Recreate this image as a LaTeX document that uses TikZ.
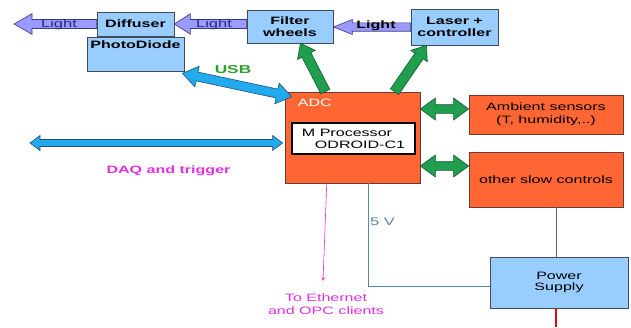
\documentclass[tikz,border=0pt]{standalone}
\usepackage{fontspec}
\setmainfont{Liberation Sans}[FakeStretch=1.5]
\usetikzlibrary{calc,arrows.meta}
\definecolor{boxblue}{HTML}{99CCFF}
\definecolor{boxedge}{HTML}{3E4B5B}
\definecolor{boxorange}{HTML}{FF6633}
\definecolor{orangeedge}{HTML}{6E3A2C}
\definecolor{lightfill}{HTML}{9999FF}
\definecolor{lightedge}{HTML}{3A3A7E}
\definecolor{lighttext}{HTML}{2C2C6E}
\definecolor{usbfill}{HTML}{22AAEE}
\definecolor{usbedge}{HTML}{1E4F7A}
\definecolor{ctrlfill}{HTML}{1F9E4E}
\definecolor{ctrledge}{HTML}{145A30}
\definecolor{usbgreen}{HTML}{2EA02E}
\definecolor{daqpink}{HTML}{E030E0}
\definecolor{voltblue}{HTML}{5A84A8}
\definecolor{psgray}{HTML}{56667C}
\definecolor{mainsred}{HTML}{D01010}
% fat arrow: style, from, to, half shaft, half head, head length
\newcommand{\fatarrow}[6]{%
  \coordinate (fa-h) at ($(#3)!#6!(#2)$);
  \draw[#1] ($(#2)!#4!90:(#3)$) -- ($(fa-h)!#4!90:(#3)$) -- ($(fa-h)!#5!90:(#3)$) -- (#3)
    -- ($(fa-h)!#5!-90:(#3)$) -- ($(fa-h)!#4!-90:(#3)$) -- ($(#2)!#4!-90:(#3)$) -- cycle;}
% fat arrow with two heads
\newcommand{\fatdarrow}[6]{%
  \coordinate (fd-a) at ($(#2)!#6!(#3)$);
  \coordinate (fd-b) at ($(#3)!#6!(#2)$);
  \draw[#1] (#2) -- ($(fd-a)!#5!90:(#3)$) -- ($(fd-a)!#4!90:(#3)$) -- ($(fd-b)!#4!90:(#3)$)
    -- ($(fd-b)!#5!90:(#3)$) -- (#3) -- ($(fd-b)!#5!-90:(#3)$) -- ($(fd-b)!#4!-90:(#3)$)
    -- ($(fd-a)!#4!-90:(#3)$) -- ($(fd-a)!#5!-90:(#3)$) -- cycle;}
\begin{document}
\fontsize{10.7pt}{12.8pt}\selectfont
\begin{tikzpicture}[x=1pt, y=-1pt, line join=miter,
    bluebox/.style={draw=boxedge, fill=boxblue, line width=0.7pt, align=center, inner sep=1pt},
    orangebox/.style={draw=orangeedge, fill=boxorange, line width=0.7pt, align=center, inner sep=1pt},
    lightarr/.style={draw=lightedge, fill=lightfill, line width=0.6pt},
    usbarr/.style={draw=usbedge, fill=usbfill, line width=0.6pt},
    ctrlarr/.style={draw=ctrledge, fill=ctrlfill, line width=0.6pt},
    wire/.style={line width=0.6pt}]
  \useasboundingbox (0,0) rectangle (631,327);
  % optics
  \node[bluebox, minimum width=77pt, minimum height=24pt, font=\bfseries] (diff) at (135.5,24) {Diffuser};
  \node[bluebox, minimum width=97pt, minimum height=34pt,
    label={[anchor=north, font=\bfseries, inner sep=0pt, yshift=-4pt]north:PhotoDiode}] (pd) at (135.5,54) {};
  \node[bluebox, minimum width=86pt, minimum height=33pt, font=\bfseries] (filt) at (290,26.5) {Filter\\[-1pt]wheels};
  \node[bluebox, minimum width=87pt, minimum height=36pt, font=\bfseries] (laser) at (454.5,27) {Laser +\\[-1pt]controller};
  % controller
  \node[orangebox, minimum width=135pt, minimum height=91pt,
    label={[anchor=north west, text=white, inner sep=0pt, xshift=13pt, yshift=-7pt]north west:ADC}] (adc) at (352.5,137.5) {};
  \node[draw=black, fill=white, line width=1.1pt, minimum width=123pt, minimum height=31pt,
    align=left, inner sep=1pt] (proc) at (353.5,138.5) {M Processor\\[-1pt]\hspace*{13pt}ODROID-C1};
  \node[orangebox, minimum width=154pt, minimum height=39pt] (amb) at (546,114.5) {Ambient sensors\\(T, humidity,..)};
  \node[orangebox, minimum width=154pt, minimum height=55pt] (slow) at (546,179.5) {other slow controls};
  \node[bluebox, minimum width=138pt, minimum height=51pt] (ps) at (559,282.5) {Power\\[-1pt]Supply};
  % light path
  \coordinate (lout) at (14,24);
  \coordinate (l2s) at (filt.west |- diff.east);
  \coordinate (l3e) at (filt.east |- laser.west);
  \fatarrow{lightarr}{diff.west}{lout}{4.5pt}{10.3pt}{18pt}
  \fatarrow{lightarr}{l2s}{diff.east}{4.5pt}{10.3pt}{16pt}
  \fatarrow{lightarr}{laser.west}{l3e}{4.2pt}{7.5pt}{19pt}
  \node[text=lighttext, inner sep=0pt, font=\fontsize{11pt}{13pt}\selectfont] (l1) at (59,24.5) {Light};
  \node[text=lighttext, inner sep=0pt, font=\fontsize{11pt}{13pt}\selectfont] (l2) at (214,24.5) {Light};
  \node[font=\bfseries, inner sep=0pt] (l3) at (376,25.5) {Light};
  % USB and DAQ
  \coordinate (usbl) at ([shift={(-2pt,-2pt)}]pd.south east);
  \coordinate (usbr) at ([shift={(7pt,-5pt)}]adc.north west);
  \fatdarrow{usbarr}{usbl}{usbr}{4.5pt}{10.5pt}{15pt}
  \node[text=usbgreen, font=\fontsize{11.5pt}{13pt}\selectfont\bfseries] (usb) at (233,70) {USB};
  \coordinate (daql) at (30,143);
  \coordinate (daqr) at ([xshift=-2pt]adc.west |- daql);
  \fatdarrow{usbarr}{daql}{daqr}{3.5pt}{7.5pt}{10pt}
  \node[text=daqpink, font=\bfseries] (daq) at (168.5,171) {DAQ and trigger};
  % slow control links
  \coordinate (g1s) at ($(adc.north west)!0.30!(adc.north east)$);
  \coordinate (g1e) at ($(filt.south west)!0.62!(filt.south east)$);
  \coordinate (g2s) at ($(adc.north west)!0.81!(adc.north east)$);
  \coordinate (g2e) at ($(laser.south west)!0.18!(laser.south east)$);
  \fatarrow{ctrlarr}{g1s}{g1e}{5pt}{10pt}{13pt}
  \fatarrow{ctrlarr}{g2s}{g2e}{5pt}{10pt}{13pt}
  \coordinate (ga1) at ([yshift=5.5pt]amb.west);
  \coordinate (ga0) at (adc.east |- ga1);
  \coordinate (gb1) at ([yshift=13.5pt]slow.west);
  \coordinate (gb0) at (adc.east |- gb1);
  \fatdarrow{ctrlarr}{ga0}{ga1}{4.3pt}{11pt}{15pt}
  \fatdarrow{ctrlarr}{gb0}{gb1}{4.3pt}{11pt}{15pt}
  % network and power
  \node[text=daqpink, align=center, inner sep=0pt] (eth) at (326,304.5) {To Ethernet\\and OPC clients};
  \coordinate (es) at ($(adc.south west)!0.31!(adc.south east)$);
  \coordinate (ee) at (323,281);
  \draw[wire, draw=daqpink, -{Stealth[length=4pt, width=3.5pt]}] (es) -- (ee);
  \coordinate (vs) at ($(adc.south west)!0.615!(adc.south east)$);
  \coordinate (pin) at ([yshift=-3.5pt]ps.west);
  \draw[wire, draw=voltblue] (vs) |- (pin);
  \node[text=voltblue, anchor=west, inner sep=1pt, font=\fontsize{11pt}{13pt}\selectfont] (volt) at (369,221.5) {5 V};
  \coordinate (sp) at ($(slow.south west)!0.57!(slow.south east)$);
  \draw[wire, draw=psgray, line width=0.9pt] (sp) -- (sp |- ps.north);
  \coordinate (mains) at (556,327);
  \draw[draw=mainsred, line width=2.2pt] (mains |- ps.south) -- (mains);
\end{tikzpicture}
\end{document}
